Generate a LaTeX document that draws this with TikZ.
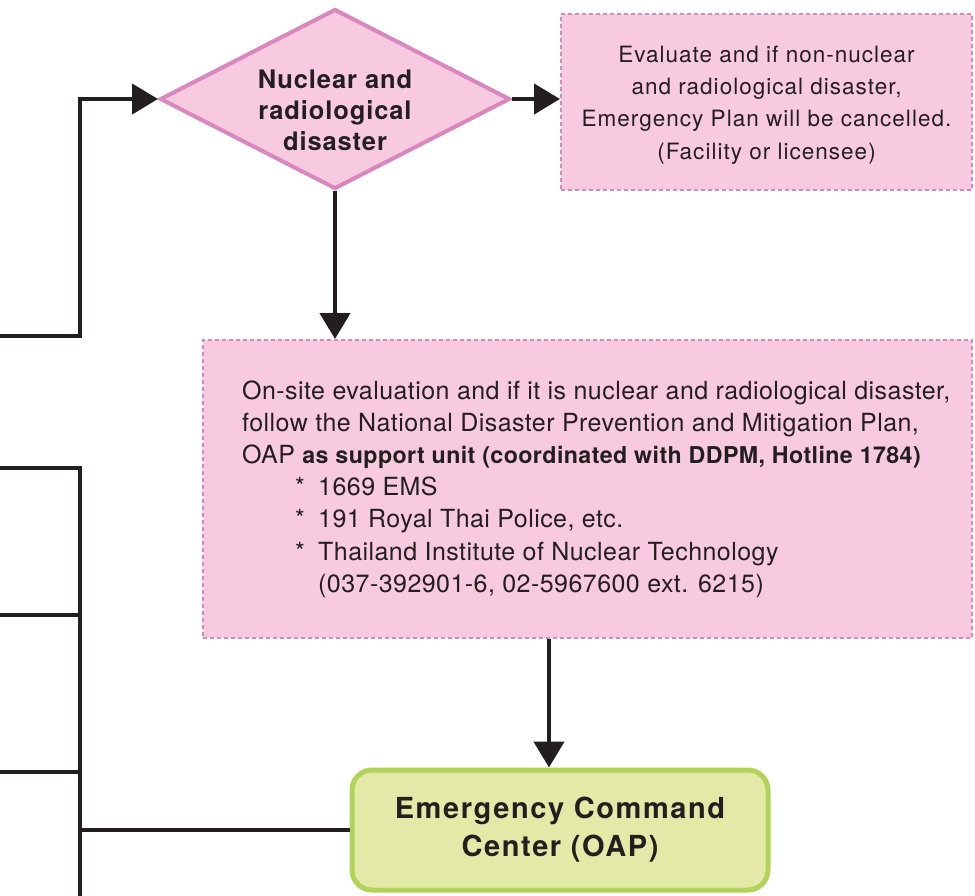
\documentclass[tikz,border=0pt]{standalone}
\usepackage{fontspec}
\setmainfont{TeX Gyre Heros}
\newfontfamily\evalfont[LetterSpace=4.5]{TeX Gyre Heros}
\newfontfamily\bodyfont[LetterSpace=1.8]{TeX Gyre Heros}
\newfontfamily\headfont[LetterSpace=3.5]{TeX Gyre Heros}
\newfontfamily\eccfont[LetterSpace=5.5]{TeX Gyre Heros}
\usetikzlibrary{shapes.geometric,arrows.meta}

\definecolor{ink}{HTML}{231F20}
\definecolor{pinkfill}{HTML}{F8CADF}
\definecolor{pinkline}{HTML}{D987BE}
\definecolor{greenfill}{HTML}{E3EAA8}
\definecolor{greenline}{HTML}{B2D35A}

\begin{document}
\begin{tikzpicture}[x=1pt,y=-1pt,
  flow/.style={draw=ink, line width=4.5pt},
  arr/.style={flow, -{Triangle[length=26pt,width=30pt]}},
  note/.style={draw=pinkline, fill=pinkfill, line width=2pt,
    dash pattern=on 4pt off 3pt, inner sep=0pt},
]
\useasboundingbox (0,0) rectangle (975,895);

% decision diamond
\node[diamond, draw=pinkline, fill=pinkfill, line width=4pt,
      minimum width=350pt, minimum height=180pt, inner sep=0pt] (dec) at (335,99) {};
\node[text=ink, align=center, font=\headfont\fontsize{25.5}{31}\selectfont\bfseries] (dectext) at (335,110)
  {Nuclear and\\radiological\\disaster};

% cancellation note
\node[note, minimum width=411pt, minimum height=176pt] (eval) at (766.5,102) {};
\node[align=center, text=ink, font=\evalfont\fontsize{22.5}{32.3}\selectfont] (evaltext) at (766.5,105)
  {Evaluate and if non-nuclear\\and radiological disaster,\\Emergency Plan will be cancelled.\\(Facility or licensee)};

% on-site evaluation note
\node[note, minimum width=769pt, minimum height=298pt] (onsite) at (587.5,489) {};
\node[anchor=west, align=left, text=ink, inner sep=0pt,
      font=\bodyfont\fontsize{25}{32.2}\selectfont] (onsitetext) at ([xshift=40pt]onsite.west)
  {On-site evaluation and if it is nuclear and radiological disaster,\\
   follow the National Disaster Prevention and Mitigation Plan,\\
   OAP {\fontsize{23.2}{32.2}\selectfont\bfseries as support unit (coordinated with DDPM, Hotline 1784)}\\
   \makebox[76pt][l]{\hspace*{53pt}*}1669 EMS\\
   \makebox[76pt][l]{\hspace*{53pt}*}191 Royal Thai Police, etc.\\
   \makebox[76pt][l]{\hspace*{53pt}*}Thailand Institute of Nuclear Technology\\
   \hspace*{76pt}(037-392901-6, 02-5967600 ext. 6215)};

% command center
\node[draw=greenline, fill=greenfill, line width=5pt, rounded corners=20pt,
      minimum width=416pt, minimum height=120pt, align=center, text=ink,
      font=\eccfont\fontsize{29}{38}\selectfont\bfseries] (ecc) at (560,830)
  {Emergency Command\\Center (OAP)};

% incoming line into the decision
\coordinate (in0) at (-5,336);
\coordinate (elbow) at (80,336);
\draw[arr] (in0) -- (elbow) |- (dec.west);

% decision outputs
\draw[arr] (dec.east) -- (eval.west |- dec.east);
\draw[arr] (dec.south) -- (dec.south |- onsite.north);
\draw[arr] ([xshift=-38.5pt]onsite.south) -- ([xshift=-11pt]ecc.north);

% left trunk with branches
\coordinate (b1) at (-5,468);
\coordinate (trunkTop) at (80,468);
\coordinate (trunkBot) at (80,900);
\coordinate (b2) at (-5,615);
\coordinate (b3) at (-5,772);
\draw[flow] (b1) -- (trunkTop) -- (trunkBot);
\draw[flow] (b2) -- (b2 -| trunkTop);
\draw[flow] (b3) -- (b3 -| trunkTop);
\draw[flow] (ecc.west) -- (ecc.west -| trunkTop);
\end{tikzpicture}
\end{document}
